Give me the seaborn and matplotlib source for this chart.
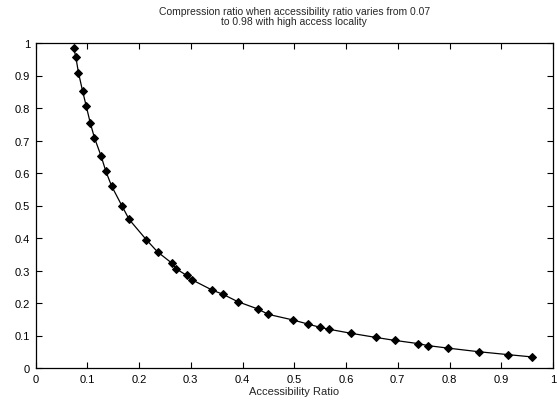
import matplotlib
matplotlib.use("Agg")
import matplotlib.pyplot as plt
import seaborn as sns
import pandas as pd

access_ratio = [0.074, 0.078, 0.083, 0.091, 0.098, 0.106, 0.114, 0.127, 0.136, 0.147,
                0.167, 0.181, 0.214, 0.236, 0.264, 0.272, 0.292, 0.303, 0.341, 0.362,
                0.391, 0.429, 0.450, 0.497, 0.527, 0.550, 0.568, 0.609, 0.658, 0.694,
                0.740, 0.758, 0.798, 0.857, 0.914, 0.960]
compression_ratio = [0.984, 0.956, 0.909, 0.852, 0.806, 0.753, 0.708, 0.651, 0.605, 0.560,
                     0.499, 0.457, 0.395, 0.357, 0.322, 0.305, 0.285, 0.271, 0.240, 0.227,
                     0.204, 0.182, 0.165, 0.148, 0.135, 0.125, 0.119, 0.107, 0.094, 0.085,
                     0.075, 0.069, 0.061, 0.050, 0.041, 0.034]
x_ticks = [0, 0.1, 0.2, 0.3, 0.4, 0.5, 0.6, 0.7, 0.8, 0.9, 1]
y_ticks = [0, 0.1, 0.2, 0.3, 0.4, 0.5, 0.6, 0.7, 0.8, 0.9, 1]

df = pd.DataFrame({"x": access_ratio, "y": compression_ratio})

sns.set_theme(style="white")
plt.rcParams['font.family'] = ['Liberation Sans', 'DejaVu Sans']

fig = plt.figure(figsize=(5.57, 4.02), dpi=100)
ax = fig.add_axes([35.5/557, 33/402, 517.5/557, 325/402])
sns.lineplot(data=df, x="x", y="y", ax=ax, color="black", linewidth=0.9,
             marker="D", markersize=4.3, markeredgecolor="black", markerfacecolor="black",
             sort=False)
ax.set_xlim(0, 1)
ax.set_ylim(0, 1)
ax.set_xticks(x_ticks)
ax.set_yticks(y_ticks)
ax.set_xticklabels([f"{t:g}" for t in x_ticks], fontsize=8)
ax.set_yticklabels([f"{t:g}" for t in y_ticks], fontsize=8)
ax.tick_params(direction="in", length=4.5, width=0.8, top=True, right=True,
               bottom=True, left=True, colors="black", pad=4)
for s in ax.spines.values():
    s.set_color("black")
    s.set_linewidth(0.9)
ax.set_xlabel("Accessibility Ratio", fontsize=8, labelpad=2)
ax.set_ylabel("")
ax.set_title("Compression ratio when accessibility ratio varies from 0.07\nto 0.98 with high access locality",
             fontsize=7.5, pad=14, linespacing=1.0)
fig.savefig("out.png", dpi=100)
